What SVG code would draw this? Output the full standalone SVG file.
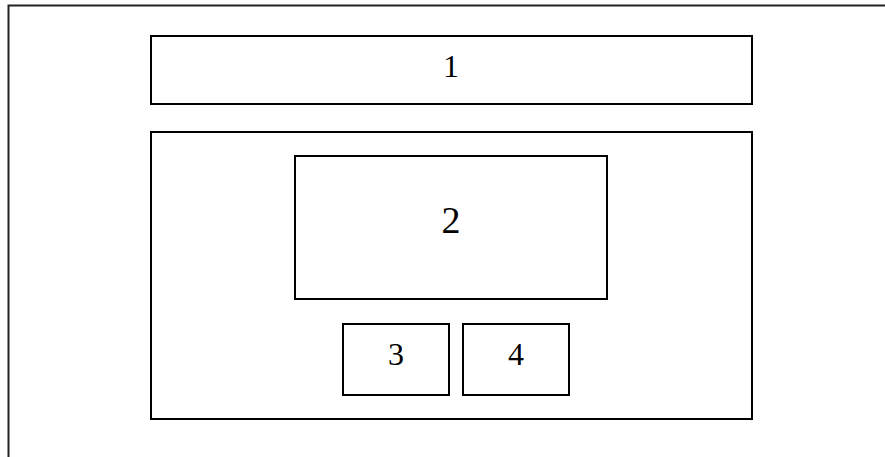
<svg xmlns="http://www.w3.org/2000/svg" width="885" height="457" viewBox="0 0 885 457">
<style>
.box{fill:none;stroke:#000;stroke-width:2}
.lbl{font-family:"Liberation Serif","Times New Roman",serif;font-size:32px;fill:#000;text-anchor:middle}
</style>
<rect x="0" y="0" width="885" height="457" fill="#fff"/>
<path d="M8.5,457 V5.5 H885" fill="none" stroke="#222" stroke-width="2"/>
<g id="node1"><rect class="box" x="151" y="36" width="601" height="68"/><text class="lbl" x="451" y="77">1</text></g>
<g id="container"><rect class="box" x="151" y="132" width="601" height="287"/></g>
<g id="node2"><rect class="box" x="295" y="156" width="312" height="143"/><text class="lbl" x="451" y="233" style="font-size:38px">2</text></g>
<g id="node3"><rect class="box" x="343" y="324" width="106" height="71"/><text class="lbl" x="396" y="365">3</text></g>
<g id="node4"><rect class="box" x="463" y="324" width="106" height="71"/><text class="lbl" x="516" y="365">4</text></g>
<g id="connectors"></g>
</svg>
